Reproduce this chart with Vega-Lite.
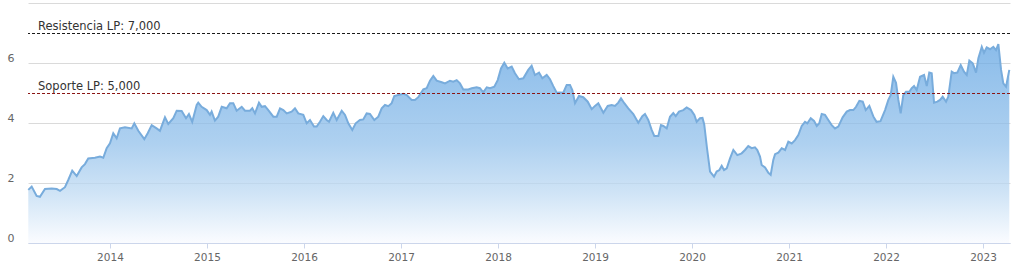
{
  "$schema": "https://vega.github.io/schema/vega-lite/v6.json",
  "width": 982,
  "height": 240,
  "autosize": {"type": "none"},
  "padding": {"left": 28, "top": 3, "right": 8, "bottom": 29},
  "background": "#ffffff",
  "config": {"view": {"stroke": null}, "font": "DejaVu Sans"},
  "datasets": {
    "series": [
      {"t": 2013.158, "value": 1.77}, {"t": 2013.193, "value": 1.88}, {"t": 2013.244, "value": 1.57}, {"t": 2013.278, "value": 1.54},
      {"t": 2013.330, "value": 1.80}, {"t": 2013.399, "value": 1.82}, {"t": 2013.451, "value": 1.80}, {"t": 2013.485, "value": 1.74},
      {"t": 2013.536, "value": 1.86}, {"t": 2013.570, "value": 2.10}, {"t": 2013.611, "value": 2.41}, {"t": 2013.657, "value": 2.23},
      {"t": 2013.708, "value": 2.52}, {"t": 2013.742, "value": 2.63}, {"t": 2013.776, "value": 2.82}, {"t": 2013.845, "value": 2.84},
      {"t": 2013.897, "value": 2.88}, {"t": 2013.931, "value": 2.84}, {"t": 2013.966, "value": 3.16}, {"t": 2014.000, "value": 3.32},
      {"t": 2014.034, "value": 3.66}, {"t": 2014.069, "value": 3.49}, {"t": 2014.103, "value": 3.82}, {"t": 2014.155, "value": 3.86},
      {"t": 2014.224, "value": 3.82}, {"t": 2014.251, "value": 3.99}, {"t": 2014.292, "value": 3.74}, {"t": 2014.354, "value": 3.46},
      {"t": 2014.389, "value": 3.66}, {"t": 2014.430, "value": 3.93}, {"t": 2014.481, "value": 3.82}, {"t": 2014.515, "value": 3.74},
      {"t": 2014.567, "value": 4.19}, {"t": 2014.601, "value": 3.97}, {"t": 2014.653, "value": 4.16}, {"t": 2014.688, "value": 4.41},
      {"t": 2014.739, "value": 4.40}, {"t": 2014.784, "value": 4.16}, {"t": 2014.814, "value": 4.30}, {"t": 2014.848, "value": 4.04},
      {"t": 2014.894, "value": 4.60}, {"t": 2014.910, "value": 4.68}, {"t": 2014.945, "value": 4.54}, {"t": 2014.997, "value": 4.43},
      {"t": 2015.031, "value": 4.27}, {"t": 2015.048, "value": 4.38}, {"t": 2015.082, "value": 4.08}, {"t": 2015.116, "value": 4.21},
      {"t": 2015.152, "value": 4.54}, {"t": 2015.203, "value": 4.49}, {"t": 2015.237, "value": 4.66}, {"t": 2015.271, "value": 4.66},
      {"t": 2015.306, "value": 4.41}, {"t": 2015.358, "value": 4.54}, {"t": 2015.392, "value": 4.41}, {"t": 2015.443, "value": 4.41},
      {"t": 2015.467, "value": 4.49}, {"t": 2015.495, "value": 4.32}, {"t": 2015.536, "value": 4.68}, {"t": 2015.564, "value": 4.54},
      {"t": 2015.598, "value": 4.56}, {"t": 2015.632, "value": 4.43}, {"t": 2015.684, "value": 4.21}, {"t": 2015.719, "value": 4.21},
      {"t": 2015.753, "value": 4.49}, {"t": 2015.787, "value": 4.43}, {"t": 2015.822, "value": 4.32}, {"t": 2015.873, "value": 4.38},
      {"t": 2015.907, "value": 4.49}, {"t": 2015.941, "value": 4.32}, {"t": 2015.993, "value": 4.27}, {"t": 2016.028, "value": 3.99},
      {"t": 2016.062, "value": 4.10}, {"t": 2016.103, "value": 3.88}, {"t": 2016.131, "value": 3.88}, {"t": 2016.165, "value": 4.04},
      {"t": 2016.199, "value": 4.23}, {"t": 2016.234, "value": 4.10}, {"t": 2016.258, "value": 4.04}, {"t": 2016.302, "value": 4.34},
      {"t": 2016.337, "value": 4.10}, {"t": 2016.389, "value": 4.41}, {"t": 2016.423, "value": 4.27}, {"t": 2016.457, "value": 3.99},
      {"t": 2016.498, "value": 3.77}, {"t": 2016.533, "value": 3.99}, {"t": 2016.577, "value": 4.10}, {"t": 2016.611, "value": 4.12},
      {"t": 2016.646, "value": 4.32}, {"t": 2016.680, "value": 4.30}, {"t": 2016.725, "value": 4.10}, {"t": 2016.766, "value": 4.21},
      {"t": 2016.801, "value": 4.49}, {"t": 2016.835, "value": 4.60}, {"t": 2016.869, "value": 4.56}, {"t": 2016.904, "value": 4.66},
      {"t": 2016.931, "value": 4.90}, {"t": 2016.972, "value": 4.93}, {"t": 2017.024, "value": 4.97}, {"t": 2017.059, "value": 4.93},
      {"t": 2017.110, "value": 4.77}, {"t": 2017.144, "value": 4.77}, {"t": 2017.178, "value": 4.86}, {"t": 2017.230, "value": 5.12},
      {"t": 2017.265, "value": 5.16}, {"t": 2017.299, "value": 5.41}, {"t": 2017.333, "value": 5.57}, {"t": 2017.368, "value": 5.41},
      {"t": 2017.420, "value": 5.36}, {"t": 2017.454, "value": 5.32}, {"t": 2017.505, "value": 5.41}, {"t": 2017.539, "value": 5.38},
      {"t": 2017.574, "value": 5.43}, {"t": 2017.608, "value": 5.32}, {"t": 2017.642, "value": 5.12}, {"t": 2017.694, "value": 5.12},
      {"t": 2017.729, "value": 5.16}, {"t": 2017.780, "value": 5.19}, {"t": 2017.814, "value": 5.16}, {"t": 2017.848, "value": 5.02},
      {"t": 2017.884, "value": 5.19}, {"t": 2017.918, "value": 5.16}, {"t": 2017.962, "value": 5.21}, {"t": 2017.997, "value": 5.43},
      {"t": 2018.031, "value": 5.82}, {"t": 2018.065, "value": 6.01}, {"t": 2018.100, "value": 5.82}, {"t": 2018.141, "value": 5.88},
      {"t": 2018.175, "value": 5.66}, {"t": 2018.216, "value": 5.46}, {"t": 2018.261, "value": 5.49}, {"t": 2018.312, "value": 5.77},
      {"t": 2018.347, "value": 5.91}, {"t": 2018.381, "value": 5.60}, {"t": 2018.423, "value": 5.68}, {"t": 2018.457, "value": 5.49},
      {"t": 2018.502, "value": 5.60}, {"t": 2018.536, "value": 5.46}, {"t": 2018.570, "value": 5.23}, {"t": 2018.605, "value": 5.01},
      {"t": 2018.639, "value": 5.02}, {"t": 2018.673, "value": 5.01}, {"t": 2018.708, "value": 5.27}, {"t": 2018.742, "value": 5.27},
      {"t": 2018.766, "value": 5.10}, {"t": 2018.794, "value": 4.66}, {"t": 2018.835, "value": 4.90}, {"t": 2018.879, "value": 4.86},
      {"t": 2018.925, "value": 4.71}, {"t": 2018.966, "value": 4.46}, {"t": 2019.000, "value": 4.57}, {"t": 2019.034, "value": 4.66},
      {"t": 2019.086, "value": 4.34}, {"t": 2019.131, "value": 4.57}, {"t": 2019.172, "value": 4.60}, {"t": 2019.206, "value": 4.57},
      {"t": 2019.240, "value": 4.68}, {"t": 2019.268, "value": 4.82}, {"t": 2019.302, "value": 4.66}, {"t": 2019.343, "value": 4.49},
      {"t": 2019.395, "value": 4.30}, {"t": 2019.446, "value": 4.01}, {"t": 2019.488, "value": 4.23}, {"t": 2019.515, "value": 4.30},
      {"t": 2019.549, "value": 4.10}, {"t": 2019.584, "value": 3.77}, {"t": 2019.611, "value": 3.57}, {"t": 2019.653, "value": 3.57},
      {"t": 2019.680, "value": 3.93}, {"t": 2019.704, "value": 3.90}, {"t": 2019.739, "value": 3.82}, {"t": 2019.773, "value": 4.21},
      {"t": 2019.807, "value": 4.33}, {"t": 2019.832, "value": 4.23}, {"t": 2019.866, "value": 4.38}, {"t": 2019.910, "value": 4.43},
      {"t": 2019.945, "value": 4.52}, {"t": 2019.990, "value": 4.43}, {"t": 2020.024, "value": 4.27}, {"t": 2020.048, "value": 4.04},
      {"t": 2020.082, "value": 4.16}, {"t": 2020.108, "value": 4.17}, {"t": 2020.126, "value": 3.95}, {"t": 2020.155, "value": 3.15},
      {"t": 2020.186, "value": 2.38}, {"t": 2020.227, "value": 2.21}, {"t": 2020.254, "value": 2.38}, {"t": 2020.282, "value": 2.43},
      {"t": 2020.306, "value": 2.57}, {"t": 2020.330, "value": 2.43}, {"t": 2020.358, "value": 2.49}, {"t": 2020.392, "value": 2.82},
      {"t": 2020.426, "value": 3.10}, {"t": 2020.467, "value": 2.93}, {"t": 2020.512, "value": 2.99}, {"t": 2020.546, "value": 3.10},
      {"t": 2020.580, "value": 3.23}, {"t": 2020.615, "value": 3.16}, {"t": 2020.649, "value": 3.19}, {"t": 2020.673, "value": 3.10},
      {"t": 2020.701, "value": 2.88}, {"t": 2020.718, "value": 2.60}, {"t": 2020.753, "value": 2.52}, {"t": 2020.787, "value": 2.34},
      {"t": 2020.811, "value": 2.27}, {"t": 2020.838, "value": 2.77}, {"t": 2020.856, "value": 2.96}, {"t": 2020.890, "value": 3.01},
      {"t": 2020.925, "value": 3.16}, {"t": 2020.959, "value": 3.10}, {"t": 2020.993, "value": 3.38}, {"t": 2021.028, "value": 3.32},
      {"t": 2021.062, "value": 3.43}, {"t": 2021.096, "value": 3.60}, {"t": 2021.131, "value": 3.90}, {"t": 2021.165, "value": 4.04},
      {"t": 2021.189, "value": 3.99}, {"t": 2021.224, "value": 4.16}, {"t": 2021.258, "value": 4.07}, {"t": 2021.286, "value": 3.90},
      {"t": 2021.312, "value": 3.99}, {"t": 2021.337, "value": 4.30}, {"t": 2021.371, "value": 4.27}, {"t": 2021.405, "value": 4.10},
      {"t": 2021.440, "value": 3.93}, {"t": 2021.474, "value": 3.82}, {"t": 2021.508, "value": 3.88}, {"t": 2021.553, "value": 4.19},
      {"t": 2021.595, "value": 4.38}, {"t": 2021.629, "value": 4.43}, {"t": 2021.663, "value": 4.43}, {"t": 2021.691, "value": 4.54},
      {"t": 2021.725, "value": 4.74}, {"t": 2021.760, "value": 4.71}, {"t": 2021.791, "value": 4.43}, {"t": 2021.828, "value": 4.57},
      {"t": 2021.869, "value": 4.22}, {"t": 2021.902, "value": 4.04}, {"t": 2021.943, "value": 4.06}, {"t": 2021.990, "value": 4.43},
      {"t": 2022.024, "value": 4.77}, {"t": 2022.048, "value": 4.93}, {"t": 2022.075, "value": 5.54}, {"t": 2022.103, "value": 5.34},
      {"t": 2022.127, "value": 4.77}, {"t": 2022.151, "value": 4.32}, {"t": 2022.178, "value": 4.93}, {"t": 2022.206, "value": 5.04},
      {"t": 2022.240, "value": 5.04}, {"t": 2022.265, "value": 5.16}, {"t": 2022.289, "value": 5.23}, {"t": 2022.316, "value": 5.10},
      {"t": 2022.351, "value": 5.54}, {"t": 2022.392, "value": 5.60}, {"t": 2022.420, "value": 5.23}, {"t": 2022.446, "value": 5.68},
      {"t": 2022.471, "value": 5.66}, {"t": 2022.495, "value": 4.68}, {"t": 2022.529, "value": 4.71}, {"t": 2022.557, "value": 4.77},
      {"t": 2022.584, "value": 4.88}, {"t": 2022.619, "value": 4.71}, {"t": 2022.642, "value": 4.88}, {"t": 2022.677, "value": 5.71},
      {"t": 2022.701, "value": 5.66}, {"t": 2022.735, "value": 5.68}, {"t": 2022.770, "value": 5.93}, {"t": 2022.804, "value": 5.71},
      {"t": 2022.832, "value": 5.60}, {"t": 2022.859, "value": 6.08}, {"t": 2022.894, "value": 5.99}, {"t": 2022.928, "value": 5.68},
      {"t": 2022.952, "value": 6.16}, {"t": 2022.987, "value": 6.54}, {"t": 2023.010, "value": 6.34}, {"t": 2023.038, "value": 6.52},
      {"t": 2023.072, "value": 6.46}, {"t": 2023.106, "value": 6.54}, {"t": 2023.134, "value": 6.43}, {"t": 2023.158, "value": 6.63},
      {"t": 2023.186, "value": 5.77}, {"t": 2023.209, "value": 5.32}, {"t": 2023.237, "value": 5.21}, {"t": 2023.271, "value": 5.77}
    ],
    "levels": [
      {"kind": "Resistencia", "level": 7, "label": "Resistencia LP: 7,000"},
      {"kind": "Soporte", "level": 5, "label": "Soporte LP: 5,000"}
    ]
  },
  "layer": [
    {
      "data": {"name": "series"},
      "mark": {
        "type": "area",
        "opacity": 0.75,
        "color": {
          "gradient": "linear",
          "x1": 0, "y1": 0, "x2": 0, "y2": 1,
          "stops": [
            {"offset": 0, "color": "#64a6e3"},
            {"offset": 0.5, "color": "#93c1eb"},
            {"offset": 0.75, "color": "#c0dbf3"},
            {"offset": 1, "color": "#f9fbff"}
          ]
        }
      },
      "encoding": {
        "x": {
          "field": "t", "type": "quantitative",
          "scale": {"domain": [2013.155, 2023.278], "nice": false, "zero": false},
          "axis": {
            "values": [2014, 2015, 2016, 2017, 2018, 2019, 2020, 2021, 2022, 2023],
            "format": "d", "title": null, "grid": false,
            "domainColor": "#ccd6eb", "tickColor": "#ccd6eb", "tickSize": 5,
            "labelColor": "#666666", "labelFontSize": 10.5, "labelPadding": 4,
            "labelFlush": false, "zindex": 1
          }
        },
        "y": {
          "field": "value", "type": "quantitative",
          "scale": {"domain": [0, 8], "nice": false},
          "axis": {
            "values": [0, 2, 4, 6, 8], "title": null, "domain": false, "ticks": false,
            "gridColor": "#dadada", "labelColor": "#666666", "labelFontSize": 11,
            "labelPadding": 14, "labelOffset": -5,
            "labelExpr": "datum.value == 8 ? '' : datum.label", "zindex": 0
          }
        }
      }
    },
    {
      "data": {"name": "series"},
      "mark": {"type": "line", "color": "#78acdc", "strokeWidth": 2},
      "encoding": {
        "x": {"field": "t", "type": "quantitative"},
        "y": {"field": "value", "type": "quantitative"}
      }
    },
    {
      "data": {"name": "levels"},
      "transform": [{"filter": "datum.kind == 'Resistencia'"}],
      "mark": {"type": "rule", "strokeDash": [3, 2], "strokeWidth": 1, "yOffset": 0.5, "color": "#1a1a1a"},
      "encoding": {
        "y": {"field": "level", "type": "quantitative"}
      }
    },
    {
      "data": {"name": "levels"},
      "transform": [{"filter": "datum.kind == 'Soporte'"}],
      "mark": {"type": "rule", "strokeDash": [3, 2], "strokeWidth": 1, "yOffset": 0.5, "color": "#8b1414"},
      "encoding": {
        "y": {"field": "level", "type": "quantitative"}
      }
    },
    {
      "data": {"name": "levels"},
      "mark": {"type": "text", "align": "left", "baseline": "alphabetic", "dx": 10, "dy": -3, "fontSize": 11.5, "color": "#333333"},
      "encoding": {
        "x": {"datum": 2013.155, "type": "quantitative"},
        "y": {"field": "level", "type": "quantitative"},
        "text": {"field": "label"}
      }
    }
  ]
}
